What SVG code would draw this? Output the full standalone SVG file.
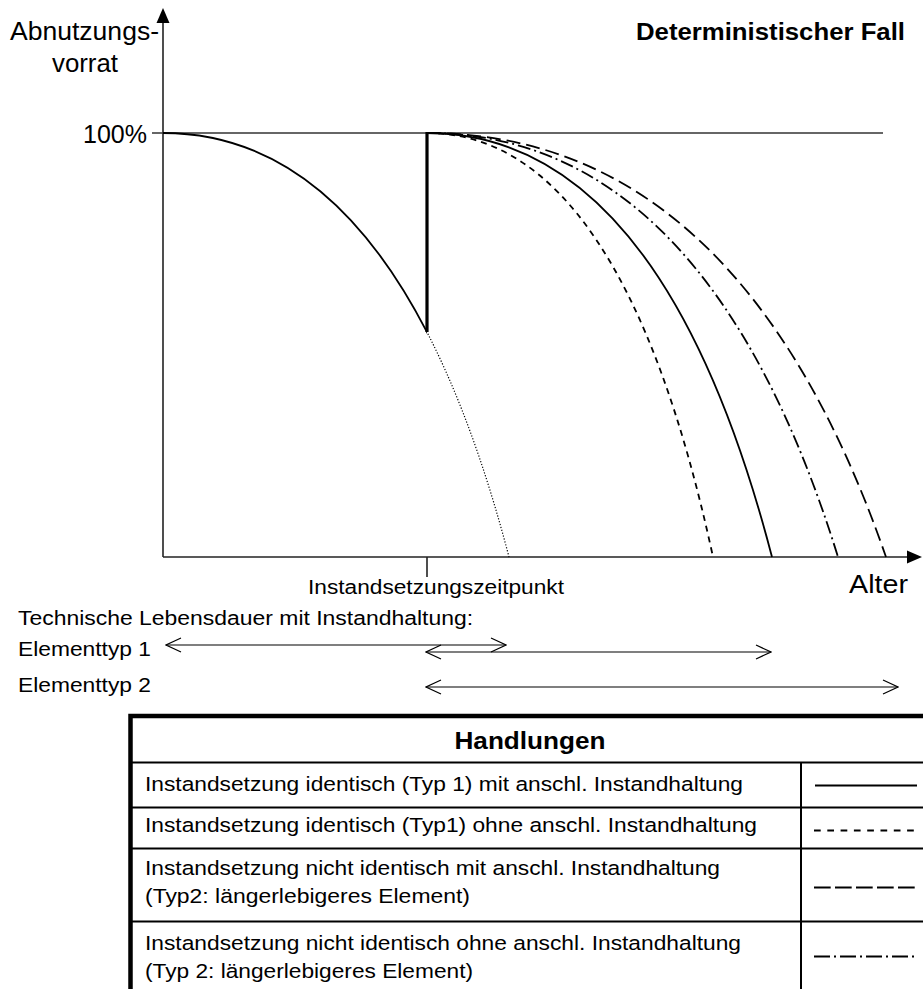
<svg xmlns="http://www.w3.org/2000/svg" width="923" height="989" viewBox="0 0 923 989">
<style>
text{font-family:"Liberation Sans",Arial,sans-serif;fill:#000}
.big{font-size:25px}
.sm{font-size:20px}
.tb{font-size:20.5px}
.bold{font-weight:bold}
.ax{stroke:#222;stroke-width:1.6;fill:none}
.cv{fill:none;stroke:#000;stroke-width:1.8}
.dash{stroke-dasharray:6 5}
.ldash{stroke-dasharray:14 6}
.dd{stroke-dasharray:13 4 2 4}
.dot{stroke-width:1.2;stroke-dasharray:1.2 1.8}
.arr{stroke:#000;stroke-width:1.2;fill:none;marker-start:url(#chev);marker-end:url(#chev)}
.grid{stroke:#000;stroke-width:2;fill:none}
</style>
<defs>
<marker id="chev" markerUnits="userSpaceOnUse" viewBox="-16 -8 17 16" refX="0" refY="0" markerWidth="17" markerHeight="16" orient="auto-start-reverse">
<path d="M-15,-7 L0,0 L-15,7" fill="none" stroke="#000" stroke-width="1.2"/>
</marker>
<clipPath id="left"><rect x="0" y="0" width="427" height="600"/></clipPath>
<clipPath id="right"><rect x="427" y="0" width="500" height="600"/></clipPath>
</defs>
<rect width="923" height="989" fill="#fff"/>

<g id="axes">
<line class="ax" x1="163" y1="557" x2="163" y2="20"/>
<polygon points="163,8 156.5,23 169.5,23" fill="#000"/>
<line class="ax" x1="163" y1="557" x2="909" y2="557"/>
<polygon points="922,557 907,550.5 907,563.5" fill="#000"/>
<line x1="152" y1="133" x2="883" y2="133" stroke="#333" stroke-width="1.4"/>
<line class="ax" x1="427" y1="557" x2="427" y2="577" stroke-width="1.3"/>
</g>

<g id="curves">
<path class="cv" clip-path="url(#left)" d="M163,133 Q398.3,133 509,557"/>
<path class="cv dot" clip-path="url(#right)" d="M163,133 Q398.3,133 509,557"/>
<line x1="427" y1="132" x2="427" y2="332" stroke="#000" stroke-width="3.2"/>
<path class="cv dash" d="M427,133 Q621.5,133 713,557"/>
<path class="cv" d="M427,133 Q661.6,133 772,557"/>
<path class="cv dd" d="M427,133 Q706.5,133 838,557"/>
<path class="cv ldash" d="M427,133 Q739.1,133 886,557"/>
</g>

<g id="labels">
<text class="big" x="10" y="40" textLength="149" lengthAdjust="spacingAndGlyphs">Abnutzungs-</text>
<text class="big" x="52" y="72" textLength="66" lengthAdjust="spacingAndGlyphs">vorrat</text>
<text class="big" x="83" y="143" textLength="64" lengthAdjust="spacingAndGlyphs">100%</text>
<text class="bold" style="font-size:23px" x="636" y="40" textLength="269" lengthAdjust="spacingAndGlyphs">Deterministischer Fall</text>
<text class="sm" x="308" y="594" textLength="256" lengthAdjust="spacingAndGlyphs">Instandsetzungszeitpunkt</text>
<text class="big" x="849" y="593" textLength="59" lengthAdjust="spacingAndGlyphs">Alter</text>
<text class="sm" x="18" y="625" textLength="455" lengthAdjust="spacingAndGlyphs">Technische Lebensdauer mit Instandhaltung:</text>
<text class="sm" x="18" y="656" textLength="133" lengthAdjust="spacingAndGlyphs">Elementtyp 1</text>
<text class="sm" x="18" y="692" textLength="133" lengthAdjust="spacingAndGlyphs">Elementtyp 2</text>
</g>

<g id="arrows">
<line class="arr" x1="166" y1="645" x2="506" y2="645"/>
<line class="arr" x1="426" y1="652" x2="771" y2="652"/>
<line class="arr" x1="426" y1="687" x2="898" y2="687"/>
</g>

<g id="table">
<rect x="130.5" y="716" width="820" height="300" fill="none" stroke="#000" stroke-width="4.5"/>
<line class="grid" x1="132" y1="762.5" x2="923" y2="762.5"/>
<line class="grid" x1="132" y1="807.5" x2="923" y2="807.5"/>
<line class="grid" x1="132" y1="848.5" x2="923" y2="848.5"/>
<line class="grid" x1="132" y1="921.5" x2="923" y2="921.5"/>
<line class="grid" x1="801" y1="762.5" x2="801" y2="989"/>
<text class="bold" style="font-size:23px" x="530" y="749" text-anchor="middle" textLength="151" lengthAdjust="spacingAndGlyphs">Handlungen</text>
<text class="tb" x="145" y="791" textLength="598" lengthAdjust="spacingAndGlyphs">Instandsetzung identisch (Typ 1) mit anschl. Instandhaltung</text>
<text class="tb" x="145" y="832" textLength="612" lengthAdjust="spacingAndGlyphs">Instandsetzung identisch (Typ1) ohne anschl. Instandhaltung</text>
<text class="tb" x="145" y="875" textLength="575" lengthAdjust="spacingAndGlyphs">Instandsetzung nicht identisch mit anschl. Instandhaltung</text>
<text class="tb" x="145" y="903" textLength="325" lengthAdjust="spacingAndGlyphs">(Typ2: längerlebigeres Element)</text>
<text class="tb" x="145" y="950" textLength="596" lengthAdjust="spacingAndGlyphs">Instandsetzung nicht identisch ohne anschl. Instandhaltung</text>
<text class="tb" x="145" y="978" textLength="328" lengthAdjust="spacingAndGlyphs">(Typ 2: längerlebigeres Element)</text>
<line x1="815" y1="785.5" x2="917" y2="785.5" stroke="#000" stroke-width="1.8"/>
<line x1="814" y1="830.5" x2="917" y2="830.5" stroke="#000" stroke-width="1.8" stroke-dasharray="6.7 6.6"/>
<line x1="814" y1="887.5" x2="915" y2="887.5" stroke="#000" stroke-width="1.8" stroke-dasharray="16.7 4.3"/>
<line x1="814" y1="956.5" x2="917" y2="956.5" stroke="#000" stroke-width="1.8" stroke-dasharray="16 4 2 4"/>
</g>
</svg>
